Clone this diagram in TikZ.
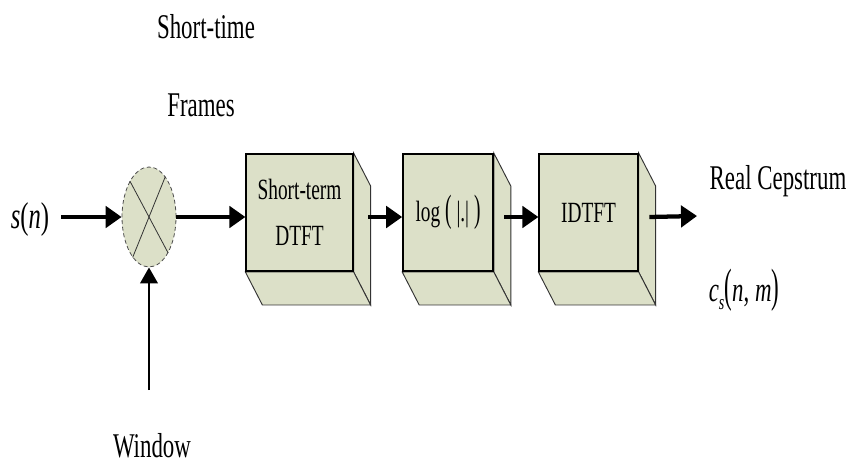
\documentclass[tikz,border=0pt]{standalone}
\usepackage{fontspec}
\setmainfont[FakeStretch=0.66]{Liberation Serif}
\usetikzlibrary{arrows.meta,shapes.geometric,backgrounds}
\definecolor{boxfill}{RGB}{220,224,200}

\begin{document}
\begin{tikzpicture}[x=0.75pt, y=-0.75pt]
        \tikzstyle{blk} = [draw, black, line width=3.2pt, -{Triangle[length=12pt,width=16pt]}]
        \tikzstyle{slim} = [draw, black, line width=2.2pt, -{Triangle[length=12pt,width=13pt]}]
        \tikzstyle{front} = [draw, black, fill=boxfill, line width=1.2pt, minimum height=88pt, inner sep=0pt, font=\fontsize{22}{35}\selectfont, align=center]
        \tikzstyle{face} = [draw=black!80, fill=boxfill, line width=0.7pt]
        \tikzstyle{lbl} = [font=\fontsize{26}{30}\selectfont, inner sep=0pt]

        \useasboundingbox (0,0) rectangle (849,467);

        \node[lbl, font=\fontsize{28}{30}\selectfont] (sn) at (30,220) {\textit{s}(\textit{n})};
        \node[ellipse, draw=black!70, densely dashed, line width=0.6pt, fill=boxfill, minimum width=40.5pt, minimum height=75pt, inner sep=0pt] (mult) at (149,217) {};
        \draw[black!80, line width=0.6pt] (mult.68) -- (mult.248);
        \draw[black!80, line width=0.6pt] (mult.118) -- (mult.298);

        \node[front, minimum width=80pt] (dtft) at (299.5,212.5) {Short-term\\DTFT};
        \node[front, minimum width=67.5pt] (logabs) at (448,212.5) {log\,\scalebox{1}[1.3]{(}\,|.|\,\scalebox{1}[1.3]{)}};
        \node[front, minimum width=74pt] (idtft) at (588.5,212.5) {IDTFT};

        % right and bottom faces of the blocks
        \begin{scope}[on background layer]
        \foreach \b in {dtft, logabs, idtft} {
            \path[face] (\b.north east) -- ++(17,33) -- ([shift={(17,33)}]\b.south east) -- (\b.south east) -- cycle;
            \path[face] (\b.south west) -- (\b.south east) -- ([shift={(17,33)}]\b.south east) -- ([shift={(17,33)}]\b.south west) -- cycle;
        }
        \end{scope}

        \coordinate (win) at (149,390);
        \coordinate (cep) at (697,216);

        \node[lbl] (stime) at (206,27) {Short-time};
        \node[lbl] (frames) at (201,105) {Frames};
        \node[lbl] (window) at (152,446) {Window};
        \node[lbl] (real) at (778,181) {Real Cepstrum};
        \node[lbl] (cs) at (744,290) {\textit{c}\raisebox{-6pt}{\fontsize{16}{16}\selectfont\textit{s}}\scalebox{1}[1.35]{(}\textit{n},\,\textit{m}\scalebox{1}[1.35]{)}};

        \path[blk, shorten <=9pt] (sn.east |- mult) -- (mult.west);
        \path[blk] (mult.east) -- (mult.east -| dtft.west);
        \path[blk] ([xshift=11pt]dtft.east |- mult) -- (logabs.west |- mult);
        \path[blk] ([xshift=8pt]logabs.east |- mult) -- (idtft.west |- mult);
        \path[blk] ([xshift=8pt]idtft.east |- mult) -- (cep);
        \path[slim] (win) -- (mult.south);
\end{tikzpicture}
\end{document}
